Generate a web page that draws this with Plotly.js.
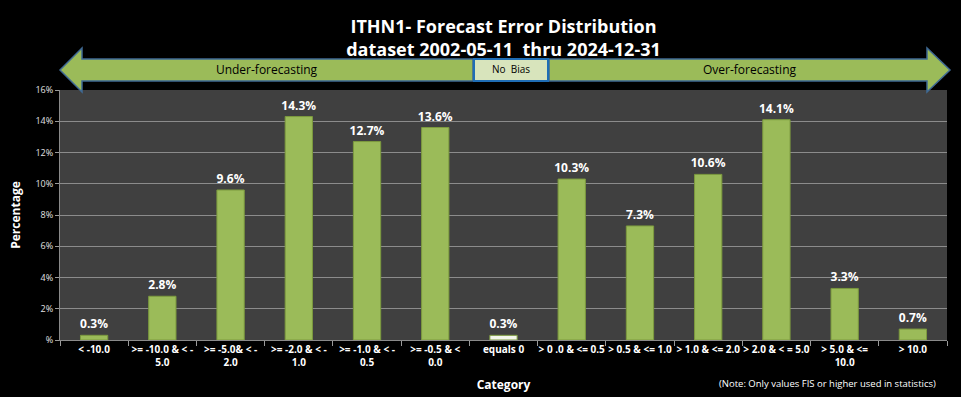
<!DOCTYPE html>
<html>
<head>
<meta charset="utf-8">
<script src="https://cdn.plot.ly/plotly-3.0.1.min.js"></script>
<style>
html,body{margin:0;padding:0;background:#000;}
#chart{width:961px;height:397px;}
</style>
</head>
<body>
<div id="chart"></div>
<script>
const categories = ["< -10.0", ">= -10.0 & < -<br>5.0", ">= -5.0& < -<br>2.0", ">= -2.0 & < -<br>1.0", ">= -1.0 & < -<br>0.5", ">= -0.5 & <<br>0.0", "equals 0", "> 0 .0 & <= 0.5", "> 0.5 & <= 1.0", "> 1.0 & <= 2.0", "> 2.0 & < = 5.0", "> 5.0 & <=<br>10.0", "> 10.0"];
const percentages = [0.3, 2.8, 9.6, 14.3, 12.7, 13.6, 0.3, 10.3, 7.3, 10.6, 14.1, 3.3, 0.7];
const yTickVals = [0, 2, 4, 6, 8, 10, 12, 14, 16];
const yTickText = ["%", "2%", "4%", "6%", "8%", "10%", "12%", "14%", "16%"];

const FONT = "Open Sans, Liberation Sans, sans-serif";
const green = "#9bbb59";
const barColors = categories.map(c => c === "equals 0" ? "#f3f6ea" : green);

const L = 60, R = 947, T = 90, B = 340;
const W = R - L, H = B - T;
const px = x => (x - L) / W;
const py = y => (B - y) / H;
function path(pts) {
  return "M" + pts.map(p => px(p[0]).toFixed(5) + "," + py(p[1]).toFixed(5)).join(" L") + " Z";
}

const leftArrow = path([[60,70],[82,48],[82,59],[473,59],[473,81],[82,81],[82,92]]);
const rightArrow = path([[549,59],[927,59],[927,48],[950,70],[927,92],[927,81],[549,81]]);
const noBias = path([[474,59],[548,59],[548,81],[474,81]]);

const trace = {
  type: "bar",
  x: categories,
  y: percentages,
  marker: {color: barColors, line: {color: "#7c9a3e", width: 1}},
  text: percentages.map(v => v.toFixed(1) + "%"),
  textposition: "outside",
  constraintext: "none",
  cliponaxis: false,
  textfont: {family: FONT, size: 12, color: "#ffffff", weight: "bold"},
  hoverinfo: "skip"
};

const labelFont = {family: FONT, size: 12, color: "#000000"};

const layout = {
  width: 961, height: 397,
  paper_bgcolor: "#000000",
  plot_bgcolor: "#404040",
  margin: {l: L, r: 961 - R, t: T, b: 397 - B},
  showlegend: false,
  bargap: 0.6,
  font: {family: FONT, color: "#ffffff"},
  title: {
    text: "<b>ITHN1- Forecast Error Distribution<br>dataset 2002-05-11  thru 2024-12-31</b>",
    font: {family: FONT, size: 18, color: "#ffffff"},
    x: 0.5, xanchor: "center", xref: "paper",
    yref: "container", y: 1 - 33 / 397, yanchor: "middle"
  },
  xaxis: {
    type: "category",
    tickson: "boundaries",
    ticks: "outside", ticklen: 5, tickcolor: "#9a9a9a",
    showline: true, linecolor: "#8a8a8a", linewidth: 1,
    showgrid: false,
    tickfont: {family: FONT, size: 10, color: "#ffffff", weight: "bold"},
    tickangle: 0,
    title: {text: "<b>Category</b>", font: {family: FONT, size: 12, color: "#ffffff"}, standoff: 12}
  },
  yaxis: {
    range: [0, 16],
    tickvals: yTickVals, ticktext: yTickText,
    ticks: "outside", ticklen: 4, tickcolor: "#9a9a9a",
    showline: true, linecolor: "#8a8a8a", linewidth: 1,
    gridcolor: "#8c8c8c", gridwidth: 1,
    zeroline: false,
    tickfont: {family: FONT, size: 9, color: "#e0e0e0"},
    title: {text: "<b>Percentage</b>", font: {family: FONT, size: 12, color: "#ffffff"}, standoff: 12}
  },
  shapes: [
    {type: "path", xref: "paper", yref: "paper", path: leftArrow, fillcolor: green, line: {color: "#3f6a94", width: 1.5},
     label: {text: "Under-forecasting", font: labelFont, textposition: "middle center"}},
    {type: "path", xref: "paper", yref: "paper", path: rightArrow, fillcolor: green, line: {color: "#3f6a94", width: 1.5},
     label: {text: "Over-forecasting", font: labelFont, textposition: "middle center"}},
    {type: "path", xref: "paper", yref: "paper", path: noBias, fillcolor: "#d8e4bc", line: {color: "#1f6db5", width: 2},
     label: {text: "No  Bias", font: {family: FONT, size: 10, color: "#000000"}, textposition: "middle center"}}
  ],
  annotations: [
    {text: "(Note: Only values FIS or higher used in statistics)", xref: "paper", yref: "paper", x: px(938), y: py(383), xanchor: "right", yanchor: "middle", showarrow: false, font: {family: FONT, size: 9.5, color: "#ffffff"}}
  ]
};

Plotly.newPlot("chart", [trace], layout, {displayModeBar: false, staticPlot: true});
</script>
</body>
</html>
